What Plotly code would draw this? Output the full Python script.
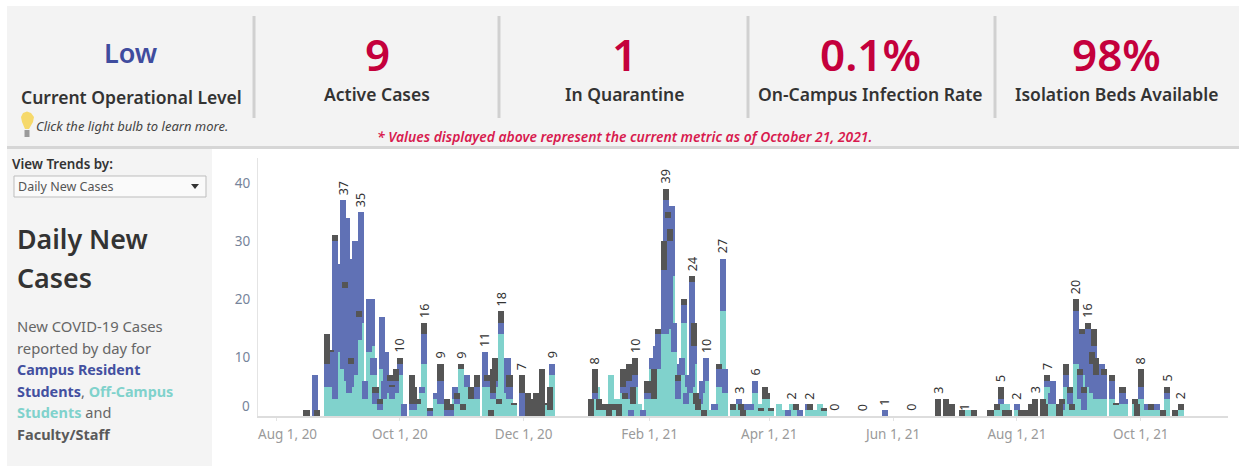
import pandas as pd
import plotly.graph_objects as go

W, H = 1239, 466
FONT = "Noto Sans"
start_date = "2020-08-01"

day_offset = [15,19,20,25,27,29,31,33,34,35,36,37,39,41,42,44,46,47,48,49,51,52,53,54,56,57,59,61,63,67,68,70,72,73,76,79,81,84,86,88,89,91,92,94,96,97,99,103,104,106,107,108,110,111,114,115,117,121,124,125,128,131,133,135,136,
155,157,158,159,162,164,165,166,168,169,171,172,174,175,176,177,179,181,183,185,186,187,188,191,192,193,194,195,196,198,199,200,201,202,203,204,205,206,207,208,209,210,211,212,214,216,218,220,221,225,228,229,230,232,234,236,238,239,241,242,244,248,250,252,254,256,258,262,263,265,268,270,300,326,330,333,338,341,344,
352,355,357,359,360,361,365,367,369,372,374,378,379,380,382,383,386,387,389,391,392,394,396,397,398,400,402,403,404,407,408,412,414,417,418,423,424,426,429,431,434,437,439,443,446]
off_campus = [0,0,0,5,5,3,11,8,8,6,4,5,7,13,16,3,11,12,7,2,1,8,3,5,4,3,4,7,0,1,1,2,4,9,0,3,2,0,0,3,2,8,1,5,3,3,3,5,5,0,3,5,2,14,4,3,2,0,0,0,0,0,2,1,7,
0,3,5,1,1,0,7,1,3,0,4,3,3,0,2,5,2,0,3,8,3,8,8,14,14,15,15,24,11,3,7,7,16,2,5,4,5,9,2,1,2,4,0,6,1,1,5,18,4,1,2,1,0,1,1,4,2,1,3,3,1,2,1,0,2,1,0,1,1,1,2,1,0,0,0,0,0,1,0,
0,1,2,0,2,0,1,0,0,0,0,0,0,5,2,2,0,1,5,2,1,9,3,7,1,5,4,5,3,3,3,3,2,2,2,2,0,3,1,1,1,0,3,0,1]
campus = [0,7,0,4,6,27,15,29,14,28,23,4,23,4,19,3,9,8,3,2,1,9,3,6,2,2,2,2,2,1,2,0,1,5,1,1,4,1,1,2,1,0,0,2,0,1,2,6,1,0,1,1,0,2,6,2,0,4,0,0,0,0,0,0,2,
0,1,0,0,0,0,0,0,0,0,1,0,3,1,0,2,0,1,1,2,0,4,6,11,23,19,15,12,5,3,2,3,3,2,2,1,18,3,0,0,2,2,0,4,0,1,3,9,4,0,1,0,0,1,1,2,0,0,0,0,0,0,0,1,0,0,1,1,0,0,0,0,1,0,0,0,0,0,0,
0,0,1,0,0,0,1,0,0,0,0,0,0,1,2,4,0,1,2,2,0,9,4,7,3,10,5,7,4,6,4,3,0,2,1,0,0,2,1,0,1,0,1,0,0]
staff = [1,0,1,5,0.3,1,0,0,1,0,0,1,0,1,0,0,0,0,0,1,1,0,0,0,1,0.3,2,1,0,5,2,1,0,2,0.3,0,3,2,1,0,1,1,1,0,2,0,2,0,1,1,4,4,1,2,0,2,0.3,3,4,3,4,8,0.3,4,0,
3,4,0,2,1,2,0,1,0,2,3,1,3,0,3,3,0,0,2,0,5,0,1,5,2,1,2,0,0,1,0,0,1,0,0,0,1,4,2,2,0,0,1,0,0,0,1,0,0,1,0,1,1,0,0,0,0,0.3,2,1,0.3,0,0,0,0,1,0,0,1,0,0,0.3,0,3,3,2,1,0,1,
1,1,2,1,0,1,0,1,1,2,3,3,2,1,0,0,2,1,2,1,1,2,1,1,1,1,2,3,3,0,1,1,0.3,1,0,1,2,3,0,1,0,1,1,1,1]

label_offset = [33,42,61,73,81,91,103,111,121,136,157,177,192,205,212,220,228,236,254,263,275,289,300,313,326,339,357,365,374,380,394,400,426,439,446]
label_value = [37,35,10,16,9,9,11,18,7,9,8,10,39,24,10,27,3,6,2,2,0,0,1,0,3,1,5,2,3,7,20,16,8,5,2]

x_tick_dates = ["2020-08-01","2020-10-01","2020-12-01","2021-02-01","2021-04-01","2021-06-01","2021-08-01","2021-10-01"]
x_tick_text = ["Aug 1, 20","Oct 1, 20","Dec 1, 20","Feb 1, 21","Apr 1, 21","Jun 1, 21","Aug 1, 21","Oct 1, 21"]
y_ticks = [10, 20, 30, 40]

headline_values = ["Low", "9", "1", "0.1%", "98%"]
headline_labels = ["Current Operational Level", "Active Cases", "In Quarantine", "On-Campus Infection Rate", "Isolation Beds Available"]

TEAL, BLUE, GRAY = "#80d2cc", "#6071b5", "#555555"
CRIMSON = "#c4003c"
base = pd.Timestamp(start_date)
dates = [base + pd.Timedelta(days=d) for d in day_offset]
totals = {d: t + c + s for d, t, c, s in zip(day_offset, off_campus, campus, staff)}

fig = go.Figure()
for name, vals, col in [("Off-Campus Students", off_campus, TEAL),
                        ("Campus Resident Students", campus, BLUE),
                        ("Faculty/Staff", staff, GRAY)]:
    fig.add_trace(go.Bar(x=dates, y=vals, name=name, width=3 * 86400000,
                         marker=dict(color=col, line=dict(width=0))))

px = lambda x: x / W
py = lambda y: 1 - y / H
shapes, notes = [], []

def rect(x0, y0, x1, y1, fill, line=None):
    shapes.append(dict(type="rect", xref="paper", yref="paper", x0=px(x0), x1=px(x1), y0=py(y1), y1=py(y0),
                       fillcolor=fill, line=dict(width=1 if line else 0, color=line or fill), layer="below"))

def text(x, y, s, size, color="#333333", anchor="center", weight=None):
    f = dict(family=FONT, size=size, color=color)
    if weight:
        f["weight"] = weight
    notes.append(dict(xref="paper", yref="paper", x=px(x), y=py(y), text=s, showarrow=False, xanchor=anchor,
                      yanchor="middle", align="left", font=f))

def path(points, fill):
    d = "M " + " L ".join(f"{px(a):.5f},{py(b):.5f}" for a, b in points) + " Z"
    shapes.append(dict(type="path", xref="paper", yref="paper", path=d, fillcolor=fill, line=dict(width=0)))

rect(7, 6, W, 146, "#f3f3f3")
rect(7, 146, W, 149, "#d6d6d6")
rect(7, 149, 212, H, "#f4f4f4")
for sx in [254, 499, 748, 995]:
    rect(sx - 1.5, 16, sx + 1.5, 118, "#d0d0d0")

centers = [131, 377, 624, 870, 1116]
text(centers[0], 53, headline_values[0], 27, "#3f4c9e", weight=600)
for cx, v in zip(centers[1:], headline_values[1:]):
    text(cx, 54, v, 44, CRIMSON, weight=600)
text(centers[0], 97.5, headline_labels[0], 17.5, weight=600)
for cx, v in zip(centers[1:], headline_labels[1:]):
    text(cx, 94.5, v, 17.5, weight=600)
text(34, 126, "<i>Click the light bulb to learn more.</i>", 13, "#444444", "left")
text(624, 136, "<i>* Values displayed above represent the current metric as of October 21, 2021.</i>", 13.9, "#d81b4f", weight=600)

# light bulb
path([(21, 117), (23, 113), (27, 111.5), (31, 113), (34, 117), (33, 122), (29, 129), (25, 129), (22, 122)], "#f6d96b")
rect(24.5, 130, 29.5, 137, "#9a9a9a")

text(10, 164, "View Trends by:", 13.4, "#333333", "left", weight=600)
rect(14, 176, 206, 197, "#fafafa", "#bdbdbd")
text(16, 186.5, "Daily New Cases", 12.5, "#555555", "left")
path([(191, 184), (199, 184), (195, 189)], "#333333")
text(15, 238, "Daily New", 26.8, "#333333", "left", weight=600)
text(15, 277, "Cases", 26.8, "#333333", "left", weight=600)
P = "#666666"
text(15, 326, "New COVID-19 Cases", 14.8, P, "left")
text(15, 348, "reported by day for", 14.8, P, "left")
text(15, 369, "<b>Campus Resident</b>", 14.3, "#4350a0", "left")
text(15, 391, "<b><span style='color:#4350a0'>Students</span></b>, <b><span style='color:#80d2cc'>Off-Campus</span></b>", 14.4, P, "left")
text(15, 412, "<b><span style='color:#80d2cc'>Students</span></b> and", 14.5, P, "left")
text(15, 434, "<b>Faculty/Staff</b>", 14.5, "#5a5a5a", "left")

for d, v in zip(label_offset, label_value):
    notes.append(dict(x=base + pd.Timedelta(days=d), y=totals.get(d, 0), xref="x", yref="y", text=str(v),
                      showarrow=False, textangle=-90, xanchor="center", yanchor="bottom", yshift=3,
                      font=dict(family=FONT, size=12.5, color="#333333")))
# the zero label sits above the baseline and the first date label is pushed inside the axis
notes.append(dict(xref="paper", x=px(252), y=0, yref="y", text="0", showarrow=False, xanchor="right", yshift=10,
                  font=dict(family=FONT, size=13.5, color="#76849a")))
notes.append(dict(xref="x", x=x_tick_dates[0], yref="paper", y=py(434), text=x_tick_text[0], showarrow=False,
                  xshift=11, yanchor="middle", font=dict(family=FONT, size=13.5, color="#9a9a9a")))
shown_ticks = [""] + x_tick_text[1:]

fig.update_layout(
    width=W, height=H, margin=dict(l=0, r=0, t=0, b=0), autosize=False,
    paper_bgcolor="white", plot_bgcolor="white", barmode="stack", bargap=0, showlegend=False,
    shapes=shapes, annotations=notes, font=dict(family=FONT),
    xaxis=dict(domain=[px(258), px(1228)], type="date", automargin=False,
               range=[base + pd.Timedelta(days=-8.9), base + pd.Timedelta(days=469)],
               tickvals=x_tick_dates, ticktext=shown_ticks, showgrid=False, zeroline=False,
               showline=True, linecolor="#dddddd", linewidth=2, ticks="outside", ticklen=3, tickcolor="#e4e4e4",
               ticklabelstandoff=2, tickfont=dict(size=13.5, color="#9a9a9a", family=FONT)),
    yaxis=dict(domain=[1 - 416 / H, 1 - 158 / H], range=[0, 44.25], tickvals=y_ticks, automargin=False,
               showgrid=False, zeroline=False, showline=True, linecolor="#e4e4e4", linewidth=1, ticks="",
               ticklabelstandoff=4, tickfont=dict(size=13.5, color="#76849a", family=FONT)),
)
fig.write_html("out.html", config={"displayModeBar": False},
               post_script="document.body.style.margin='0';document.body.style.overflow='hidden';")
